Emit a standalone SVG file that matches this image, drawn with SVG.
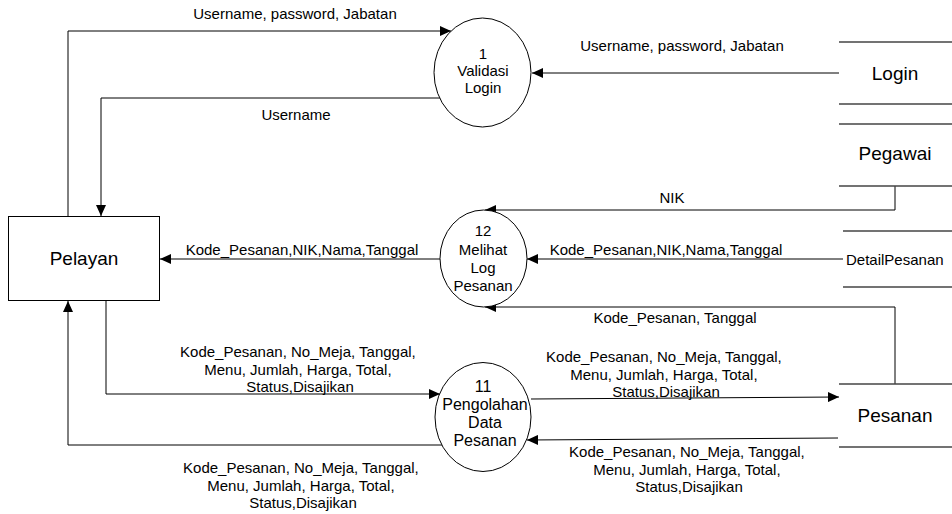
<svg xmlns="http://www.w3.org/2000/svg" width="952" height="514" viewBox="0 0 952 514">
  <defs>
    <marker id="arrow" markerUnits="userSpaceOnUse" markerWidth="12" markerHeight="10" refX="11" refY="5" orient="auto">
      <path d="M0,0 L11,5 L0,10 Z" fill="#000"/>
    </marker>
    <style>
      text { font-family: "Liberation Sans", Arial, sans-serif; fill: #000; }
      .lbl { font-size: 15px; text-anchor: middle; }
      .proc { fill: #fff; stroke: #000; stroke-width: 1; }
      .proc-t { font-size: 15px; text-anchor: middle; }
      .proc-t16 { font-size: 16px; text-anchor: middle; }
      .ent { fill: #fff; stroke: #000; stroke-width: 1; }
      .big { font-size: 19px; text-anchor: middle; }
      .store { stroke: #444; stroke-width: 1.3; fill: none; }
      .flow { fill: none; stroke: #000; stroke-width: 1; marker-end: url(#arrow); }
    </style>
  </defs>

  <rect width="952" height="514" fill="#fff"/>

  <!-- data flows -->
  <g id="connectors">
    <path class="flow" d="M68,216 V31 H451"/>
    <path class="flow" d="M440,98 H101 V216"/>
    <path class="flow" d="M839,73 H532"/>
    <path class="flow" d="M895,186 V210 H485"/>
    <path class="flow" d="M843,259 H527"/>
    <path class="flow" d="M440,259 H160"/>
    <path class="flow" d="M895,384 V307 H485"/>
    <path class="flow" d="M106,301 V394 H440"/>
    <path class="flow" d="M442,445 H68 V301"/>
    <path class="flow" d="M531,399 L839,397"/>
    <path class="flow" d="M838,438 L527,440"/>

    <text class="lbl" x="295" y="19">Username, password, Jabatan</text>
    <text class="lbl" x="682" y="51">Username, password, Jabatan</text>
    <text class="lbl" x="296" y="120">Username</text>
    <text class="lbl" x="672" y="203">NIK</text>
    <text class="lbl" x="302" y="255">Kode_Pesanan,NIK,Nama,Tanggal</text>
    <text class="lbl" x="666" y="255">Kode_Pesanan,NIK,Nama,Tanggal</text>
    <text class="lbl" x="675" y="323">Kode_Pesanan, Tanggal</text>
    <text class="lbl" x="300" y="357">
      <tspan x="300" dy="0">Kode_Pesanan, No_Meja, Tanggal,</tspan>
      <tspan x="300" dy="17.5">Menu, Jumlah, Harga, Total,</tspan>
      <tspan x="300" dy="17.5">Status,Disajikan</tspan>
    </text>
    <text class="lbl" x="666" y="362">
      <tspan x="666" dy="0">Kode_Pesanan, No_Meja, Tanggal,</tspan>
      <tspan x="666" dy="17.5">Menu, Jumlah, Harga, Total,</tspan>
      <tspan x="666" dy="17.5">Status,Disajikan</tspan>
    </text>
    <text class="lbl" x="689" y="457">
      <tspan x="689" dy="0">Kode_Pesanan, No_Meja, Tanggal,</tspan>
      <tspan x="689" dy="17.5">Menu, Jumlah, Harga, Total,</tspan>
      <tspan x="689" dy="17.5">Status,Disajikan</tspan>
    </text>
    <text class="lbl" x="303" y="473">
      <tspan x="303" dy="0">Kode_Pesanan, No_Meja, Tanggal,</tspan>
      <tspan x="303" dy="17.5">Menu, Jumlah, Harga, Total,</tspan>
      <tspan x="303" dy="17.5">Status,Disajikan</tspan>
    </text>
  </g>

  <!-- external entity -->
  <g id="pelayan">
    <rect class="ent" x="8.5" y="216.5" width="151" height="84"/>
    <text class="big" x="84" y="265">Pelayan</text>
  </g>

  <!-- processes -->
  <g id="p1-validasi-login">
    <ellipse class="proc" cx="482.5" cy="72.5" rx="48.5" ry="54.5"/>
    <text class="proc-t" x="483" y="59">1</text>
    <text class="proc-t" x="483" y="76">Validasi</text>
    <text class="proc-t" x="483" y="93">Login</text>
  </g>

  <g id="p12-melihat-log-pesanan">
    <ellipse class="proc" cx="483.5" cy="258.5" rx="43.5" ry="48.5"/>
    <text class="proc-t" x="483" y="236">12</text>
    <text class="proc-t" x="483" y="255">Melihat</text>
    <text class="proc-t" x="483" y="273">Log</text>
    <text class="proc-t" x="483" y="291">Pesanan</text>
  </g>

  <g id="p11-pengolahan-data-pesanan">
    <ellipse class="proc" cx="483" cy="417" rx="48" ry="54.5"/>
    <text class="proc-t16" x="483" y="392">11</text>
    <text class="proc-t16" x="485" y="410">Pengolahan</text>
    <text class="proc-t16" x="485" y="428">Data</text>
    <text class="proc-t16" x="485" y="446">Pesanan</text>
  </g>

  <!-- data stores -->
  <g id="store-login">
    <line class="store" x1="839" y1="42" x2="952" y2="42"/>
    <line class="store" x1="839" y1="104" x2="952" y2="104"/>
    <text class="big" x="895" y="80">Login</text>
  </g>

  <g id="store-pegawai">
    <line class="store" x1="839" y1="124" x2="952" y2="124"/>
    <line class="store" x1="839" y1="186" x2="952" y2="186"/>
    <text class="big" x="895" y="160">Pegawai</text>
  </g>

  <g id="store-detailpesanan">
    <line class="store" x1="843" y1="231" x2="952" y2="231"/>
    <line class="store" x1="843" y1="287" x2="952" y2="287"/>
    <text x="846" y="265" font-size="15">DetailPesanan</text>
  </g>

  <g id="store-pesanan">
    <line class="store" x1="839" y1="384" x2="952" y2="384"/>
    <line class="store" x1="839" y1="447" x2="952" y2="447"/>
    <text class="big" x="895" y="422">Pesanan</text>
  </g>
</svg>
